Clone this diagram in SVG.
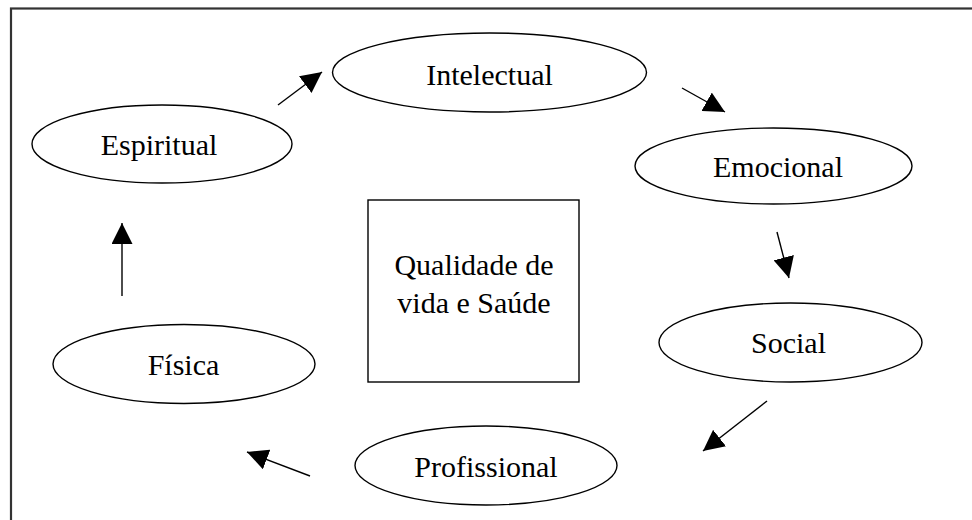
<svg xmlns="http://www.w3.org/2000/svg" width="972" height="520" viewBox="0 0 972 520">
  <style>
    .node ellipse, .node rect { fill: #ffffff; stroke: #000000; stroke-width: 1.4; }
    .label { font-family: "Liberation Serif", "Times New Roman", serif; font-size: 30px; fill: #000000; text-anchor: middle; }
    .conn { stroke: #000000; stroke-width: 1.4; fill: none; marker-end: url(#arrow); }
  </style>
  <defs>
    <marker id="arrow" markerUnits="userSpaceOnUse" markerWidth="21" markerHeight="21" viewBox="0 0 20 20" refX="20" refY="10" orient="auto">
      <path d="M0,0 L20,10 L0,20 z" fill="#000000"/>
    </marker>
  </defs>
  <rect x="0" y="0" width="972" height="520" fill="#ffffff"/>
  <rect id="frame" x="11" y="8.5" width="975" height="530" fill="none" stroke="#333333" stroke-width="2.2"/>

  <g id="connectors">
    <line class="conn" x1="278" y1="105" x2="322" y2="72"/>
    <line class="conn" x1="682" y1="88" x2="725" y2="112"/>
    <line class="conn" x1="777" y1="232" x2="789" y2="278"/>
    <line class="conn" x1="767" y1="401" x2="703" y2="451"/>
    <line class="conn" x1="310" y1="476" x2="247" y2="452"/>
    <line class="conn" x1="122" y1="296" x2="122" y2="223"/>
  </g>

  <g id="intelectual" class="node">
    <ellipse cx="489.5" cy="72.5" rx="157" ry="39.5"/>
    <text class="label" x="489.5" y="85">Intelectual</text>
  </g>
  <g id="espiritual" class="node">
    <ellipse cx="162" cy="144" rx="130" ry="39"/>
    <text class="label" x="159" y="155">Espiritual</text>
  </g>
  <g id="emocional" class="node">
    <ellipse cx="773.5" cy="166" rx="138.5" ry="38"/>
    <text class="label" x="778" y="177">Emocional</text>
  </g>
  <g id="qualidade" class="node">
    <rect x="368" y="200" width="211" height="182"/>
    <text class="label" x="474" y="275">Qualidade de</text>
    <text class="label" x="474" y="313">vida e Saúde</text>
  </g>
  <g id="social" class="node">
    <ellipse cx="790.5" cy="342.5" rx="131.5" ry="39.5"/>
    <text class="label" x="788.5" y="353">Social</text>
  </g>
  <g id="fisica" class="node">
    <ellipse cx="184" cy="364" rx="131" ry="39.5"/>
    <text class="label" x="183.5" y="375">Física</text>
  </g>
  <g id="profissional" class="node">
    <ellipse cx="486" cy="465.5" rx="131" ry="39.5"/>
    <text class="label" x="486" y="477">Profissional</text>
  </g>
</svg>
